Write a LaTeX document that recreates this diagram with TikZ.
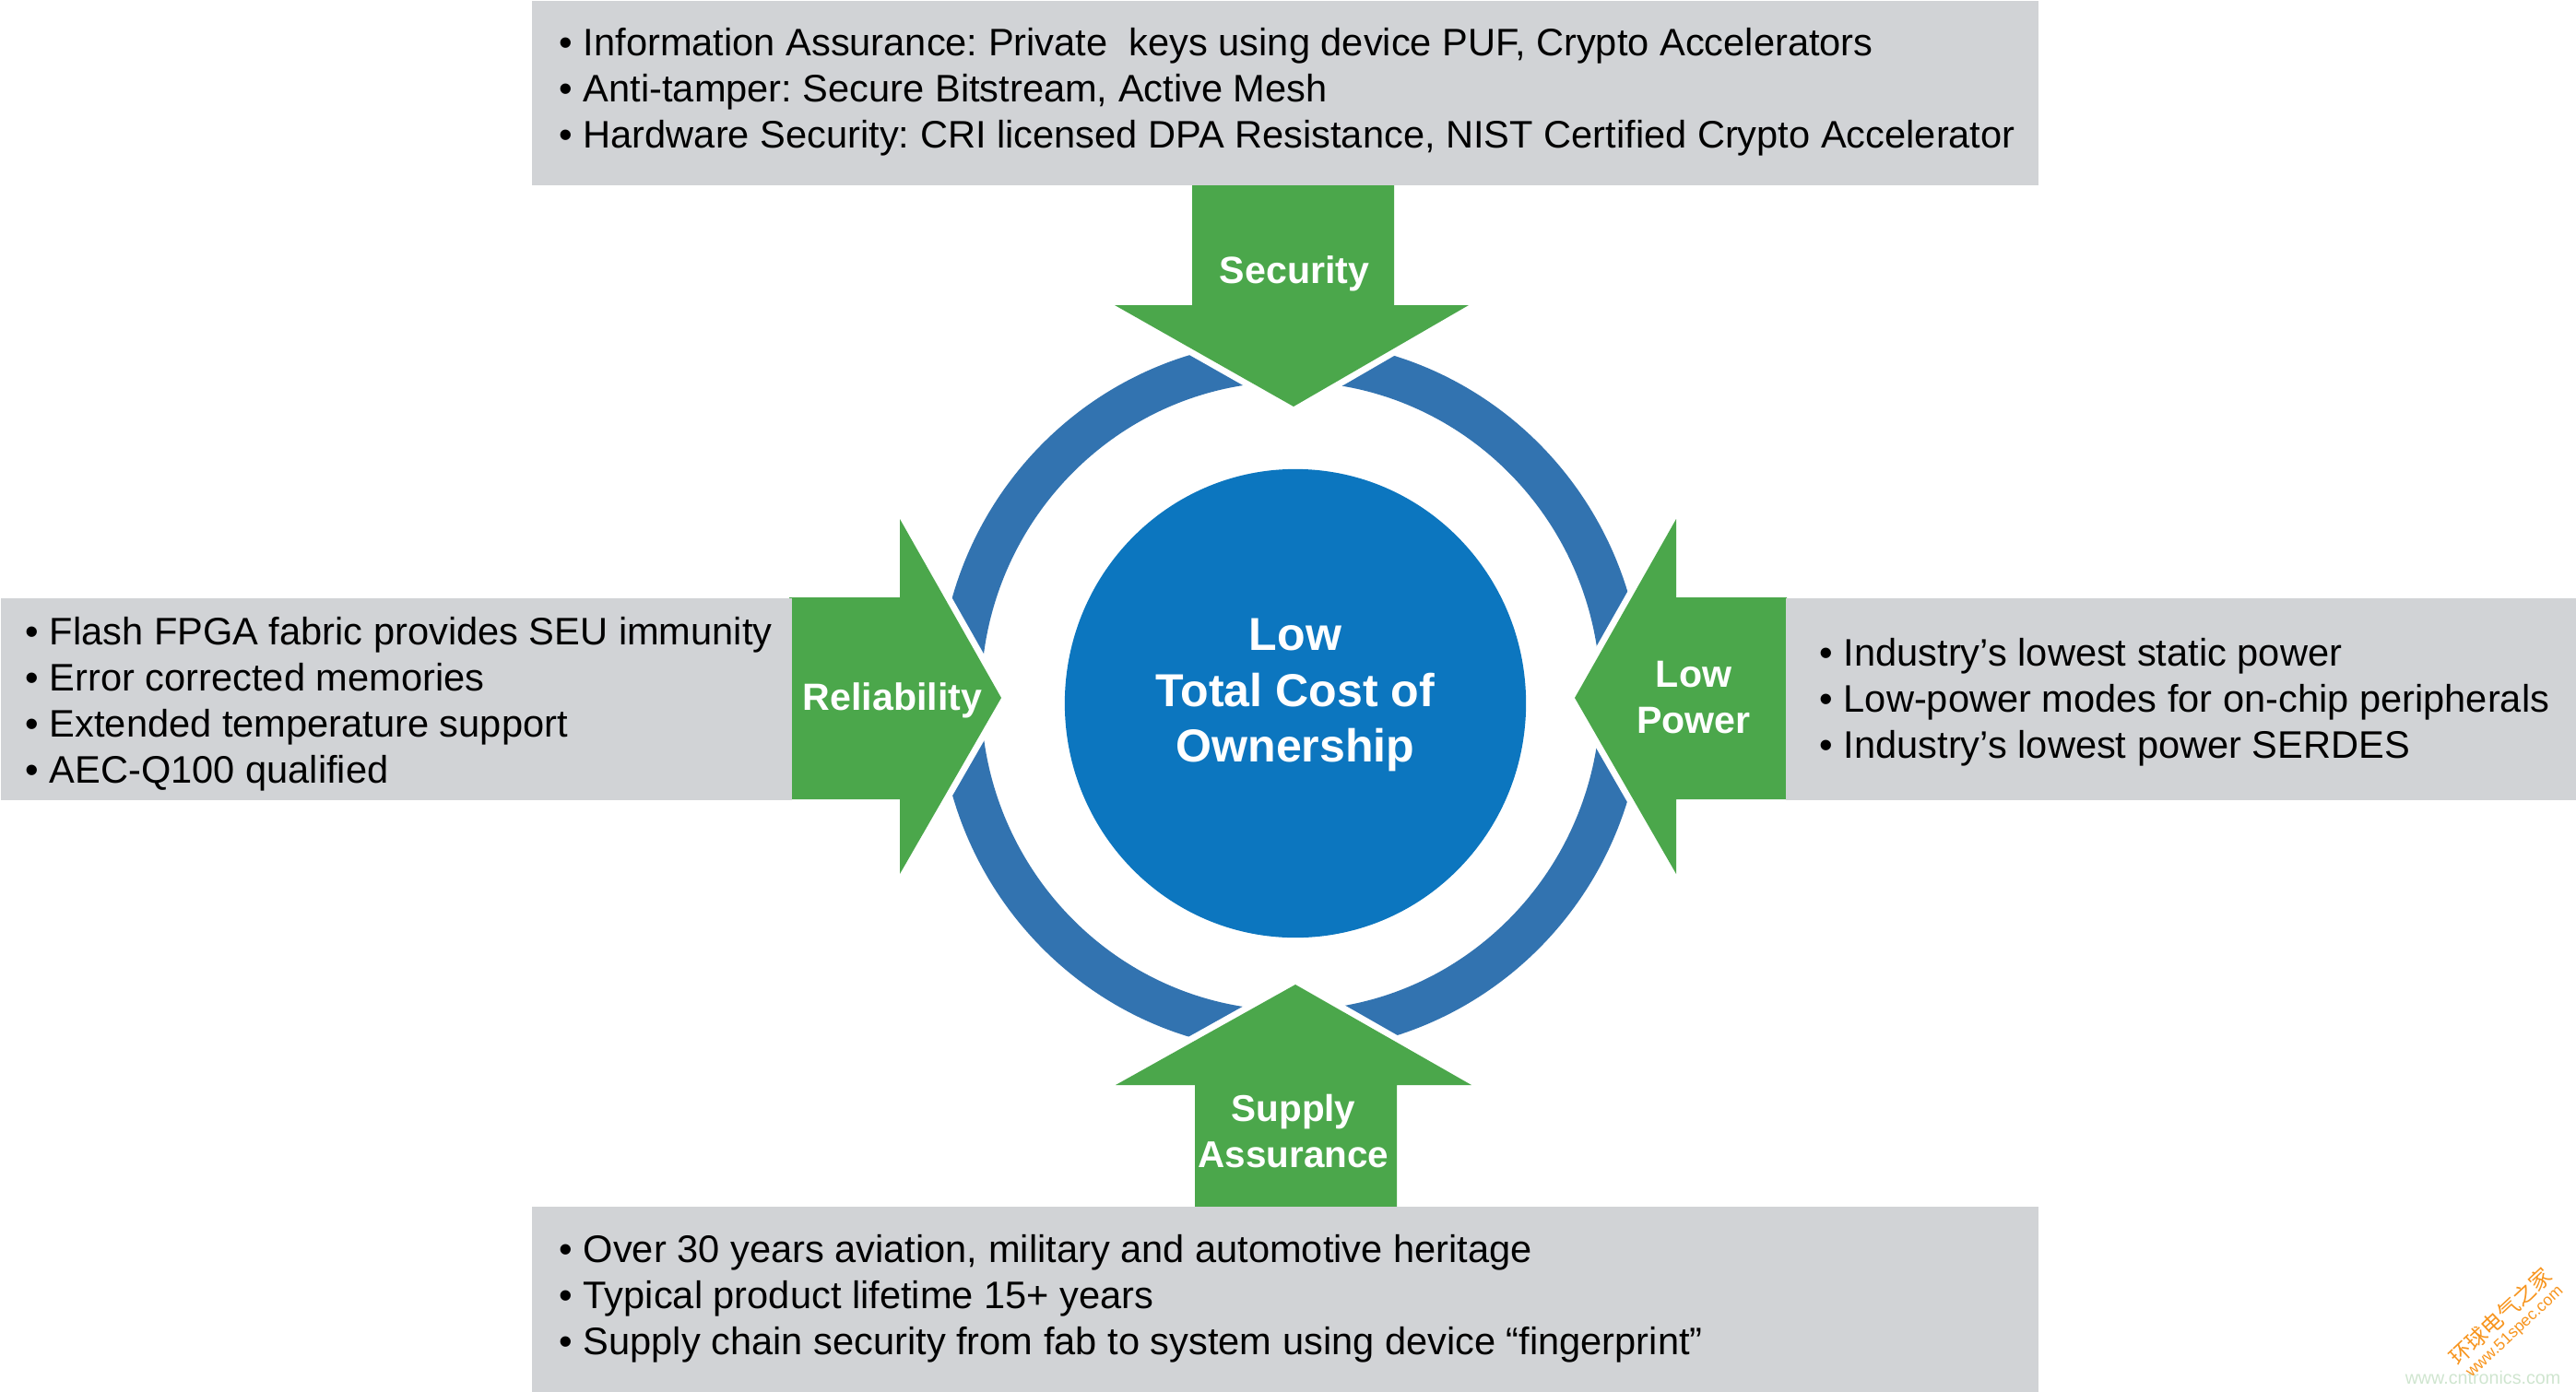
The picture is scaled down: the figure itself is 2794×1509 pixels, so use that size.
\documentclass[tikz,border=0pt]{standalone}
\usepackage{fontspec}
\setmainfont{Liberation Sans}
\newfontfamily\cjkfont{Noto Sans CJK SC}
\usetikzlibrary{shapes.geometric, positioning}
\frenchspacing

\definecolor{arrowgreen}{HTML}{4BA74B}
\definecolor{ringblue}{HTML}{3273B0}
\definecolor{coreblue}{HTML}{0C76BF}
\definecolor{panelgrey}{HTML}{D1D3D6}
\definecolor{markorange}{HTML}{F7941D}
\definecolor{markgreen}{HTML}{CFE5CF}

\tikzset{
    panel/.style={fill=panelgrey, anchor=north west, inner sep=0pt},
    listtext/.style={anchor=west, align=left, inner sep=0pt, text=black,
        font=\fontsize{11.83}{14.2}\selectfont},
    arrowshape/.style={fill=arrowgreen, preaction={draw=white, line width=1.4mm}},
    arrowlabel/.style={align=center, inner sep=0pt, text=white,
        font=\fontsize{11.7}{14.2}\selectfont\bfseries},
}

\begin{document}
\begin{tikzpicture}[x=0.01cm, y=-0.01cm]

    \useasboundingbox (0,0) rectangle (2794,1509);

    \fill[ringblue, even odd rule] (1400,755) ellipse [x radius=382, y radius=386]
        (1400,755) ellipse [x radius=336, y radius=341];

    \path[arrowshape] (1293,198) -- (1512,198) -- (1512,331) -- (1593,331) -- (1403,441)
        -- (1209,331) -- (1293,331) -- cycle;
    \path[arrowshape] (856,648) -- (976,648) -- (976,563) -- (1086,757) -- (976,948)
        -- (976,867) -- (856,867) -- cycle;
    \path[arrowshape] (1938,648) -- (1818,648) -- (1818,563) -- (1708,757) -- (1818,948)
        -- (1818,867) -- (1938,867) -- cycle;
    \path[arrowshape] (1296,1311) -- (1515,1311) -- (1515,1177) -- (1596,1177) -- (1405,1068)
        -- (1210,1177) -- (1296,1177) -- cycle;

    \node[panel, minimum width=16.33cm, minimum height=2.00cm] (secpanel) at (576,0) {};
    \node[panel, minimum width=8.58cm, minimum height=2.19cm] (relpanel) at (0,648) {};
    \node[panel, minimum width=8.58cm, minimum height=2.19cm] (powpanel) at (1936,648) {};
    \node[panel, minimum width=16.33cm, minimum height=2.01cm] (suppanel) at (576,1308) {};

    \node[ellipse, fill=coreblue, inner sep=0pt, minimum width=5cm, minimum height=5.08cm]
        (core) at (1405,763) {};
    \node[align=center, inner sep=0pt, text=white,
        font=\fontsize{14.25}{17.1}\selectfont\bfseries] (coretext) at (1405,754)
        {Low\\Total Cost of\\Ownership};

    \node[arrowlabel] (seclabel) at (1404,297) {Security};
    \node[arrowlabel] (rellabel) at (968,760) {Reliability};
    \node[arrowlabel] (powlabel) at (1837,757) {Low\\Power};
    \node[arrowlabel, font=\fontsize{11.5}{14.2}\selectfont\bfseries] (suplabel) at (1403,1227) {Supply\\Assurance};

    \node[listtext] (sectext) at (606,100) {
        • Information Assurance: Private~ keys using device PUF, Crypto Accelerators\\
        • Anti-tamper: Secure Bitstream, Active Mesh\\
        • Hardware Security: CRI licensed DPA Resistance, NIST Certified Crypto Accelerator};
    \node[listtext] (reltext) at (27,764) {
        • Flash FPGA fabric provides SEU immunity\\
        • Error corrected memories\\
        • Extended temperature support\\
        • AEC-Q100 qualified};
    \node[listtext] (powtext) at (1973,762) {
        • Industry’s lowest static power\\
        • Low-power modes for on-chip peripherals\\
        • Industry’s lowest power SERDES};
    \node[listtext] (suptext) at (606,1409) {
        • Over 30 years aviation, military and automotive heritage\\
        • Typical product lifetime 15+ years\\
        • Supply chain security from fab to system using device “fingerprint”};

    \node[text=markgreen, inner sep=0pt, font=\fontsize{5.6}{7}\selectfont] (markcn) at (2693,1494)
        {www.cntronics.com};
    \node[text=markorange, inner sep=0pt, rotate=43, font=\cjkfont\fontsize{6.7}{8}\selectfont]
        (markzh) at (2712,1428) {环球电气之家};
    \node[text=markorange, inner sep=0pt, rotate=43, font=\fontsize{5}{6}\selectfont]
        (markweb) at (2728,1445) {www.51spec.com};

\end{tikzpicture}
\end{document}
